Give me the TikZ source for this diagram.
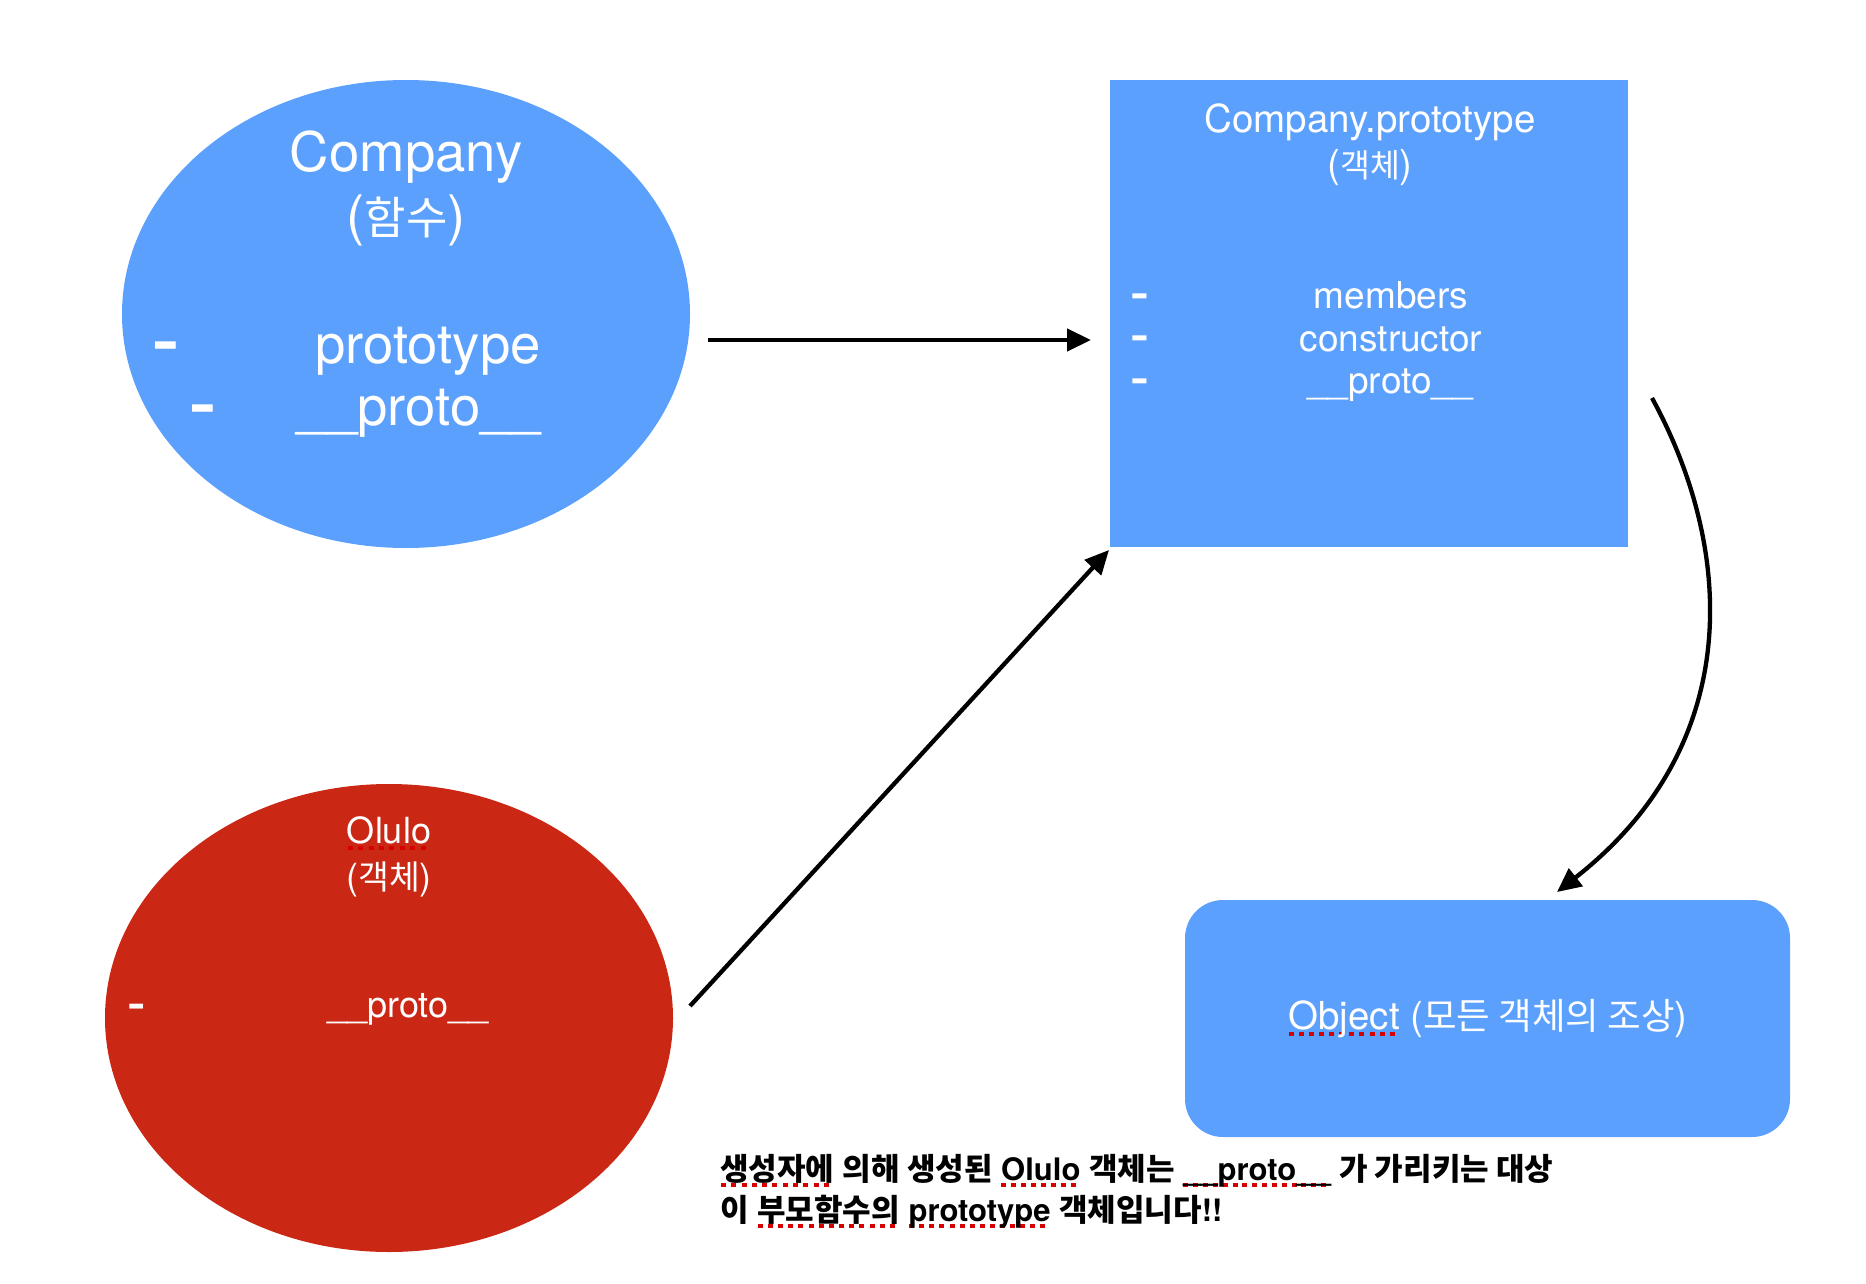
\documentclass[tikz,border=0pt]{standalone}
\usepackage{fontspec}
\setmainfont{TeX Gyre Heros}
\newfontfamily\kr{Noto Sans CJK KR}
\usetikzlibrary{arrows.meta,shapes.geometric}
\definecolor{boxblue}{RGB}{92,160,253}
\definecolor{ovalred}{RGB}{202,40,20}
\definecolor{squigred}{RGB}{214,0,0}
\newsavebox\sqbox
\newcommand\squig[1]{\sbox\sqbox{#1}\rlap{\raisebox{-7pt}{\color{squigred}\hbox to \wd\sqbox{\xleaders\hbox{\rule{5pt}{4pt}\hskip4.6pt}\hfill}}}\usebox\sqbox}
\newcommand\bdash{\scalebox{1.4}[1]{\bfseries -}}
\newcommand\krz[2]{{\kr\fontsize{#1}{#1}\selectfont #2}}
\newcommand\szA{\fontsize{54.5}{62}\selectfont}
\newcommand\szB{\fontsize{37}{44}\selectfont}
\newcommand\szH{\fontsize{38.5}{44}\selectfont}
\newcommand\szC{\fontsize{36}{42}\selectfont}
\newcommand\szD{\fontsize{38.5}{44}\selectfont}
\newcommand\szE{\fontsize{31}{36}\selectfont\bfseries}
\begin{document}
\begin{tikzpicture}[x=1pt,y=-1pt,
  txt/.style={text=white, inner sep=0pt, anchor=base},
  note/.style={text=black, inner sep=0pt, anchor=base west, font=\szE},
  oval/.style={ellipse, minimum width=568pt, minimum height=468pt, inner sep=0pt},
  arr/.style={draw=black, line width=4.3pt, -{Triangle[length=24pt,width=22pt]}}]
\useasboundingbox (0,0) rectangle (1866,1284);
% shapes
\node[oval, fill=boxblue] (company) at (406,314) {};
\node[rectangle, fill=boxblue, minimum width=518pt, minimum height=467pt, inner sep=0pt] (cproto) at (1369,313.5) {};
\node[oval, fill=ovalred] (olulo) at (389,1018) {};
\node[rectangle, rounded corners=38pt, fill=boxblue, minimum width=605pt, minimum height=237pt, inner sep=0pt] (object) at (1487.5,1018.5) {};
% company texts
\node[txt, font=\szA] (c1) at (406,172) {Company};
\node[txt, font=\szA] (c2) at (406,235) {(\krz{45}{함수})};
\node[txt, font=\szA] (c3) at (166,360) {\bdash};
\node[txt, font=\szA] (c4) at (428,363) {prototype};
\node[txt, font=\szA] (c5) at (203,423) {\bdash};
\node[txt, font=\szA] (c6) at (419,425) {\_\_proto\_\_};
% company.prototype texts
\node[txt, font=\szH] (p1) at (1370,133) {Company.prototype};
\node[txt, font=\szH] (p2) at (1370,178) {(\krz{32.5}{객체})};
\node[txt, font=\szB] (p3) at (1140,306) {\bdash};
\node[txt, font=\szB] (p4) at (1391,308) {members};
\node[txt, font=\szB] (p5) at (1140,348) {\bdash};
\node[txt, font=\szB] (p6) at (1391,351) {constructor};
\node[txt, font=\szB] (p7) at (1140,391) {\bdash};
\node[txt, font=\szB] (p8) at (1390,393) {\_\_proto\_\_};
% olulo texts
\node[txt, font=\szC] (o1) at (389,843) {\squig{Olulo}};
\node[txt, font=\szC] (o2) at (389,889) {(\krz{33.5}{객체})};
\node[txt, font=\szC] (o3) at (137,1016) {\bdash};
\node[txt, font=\szC] (o4) at (408,1017) {\_\_proto\_\_};
% object text
\node[txt, font=\szD] (b1) at (1488,1029) {\squig{Object} (\krz{36.5}{모든 객체의 조상})};
% note
\node[note] (n1) at (720,1180) {\squig{\kr 생성자에} {\kr 의해 생성된} \squig{Olulo} {\kr 객체는} \squig{\_\_proto\_\_} {\kr 가 가리키는 대상}};
\node[note] (n2) at (720,1221) {{\kr 이} \squig{\kr 부모함수의} \squig{prototype} {\kr 객체입니다}!!};
% connectors
\coordinate (a1s) at (708,340);
\coordinate (a1e) at (1091,340);
\coordinate (a2s) at (690,1006);
\coordinate (a2e) at (1109,550);
\coordinate (a3s) at (1652,398);
\coordinate (a3e) at (1557,892);
\draw[arr] (a1s) -- (a1e);
\draw[arr] (a2s) -- (a2e);
\draw[arr] (a3s) .. controls (1735,550) and (1745,745) .. (a3e);
\end{tikzpicture}
\end{document}
